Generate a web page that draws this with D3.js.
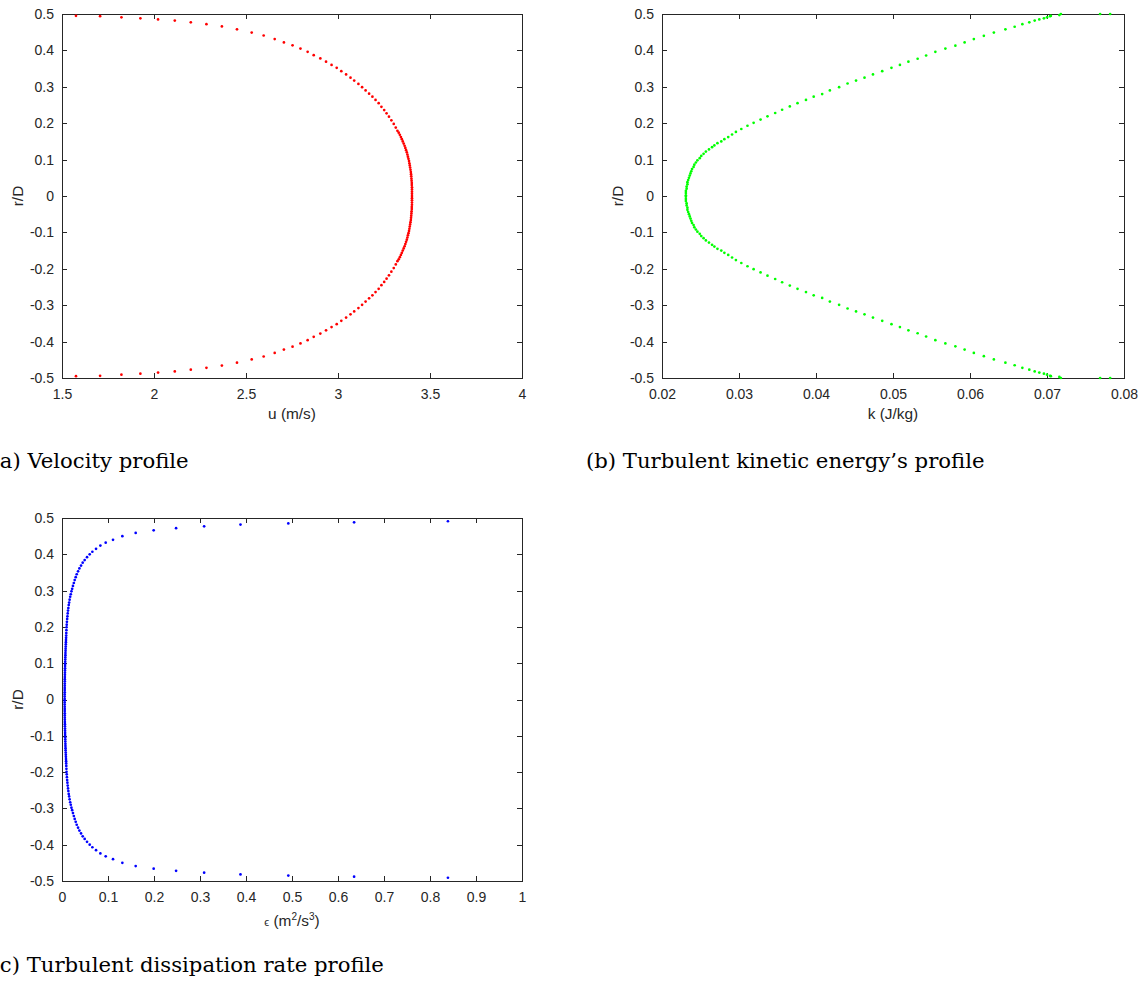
<!DOCTYPE html>
<html>
<head>
<meta charset="utf-8">
<script src="https://cdn.jsdelivr.net/npm/d3@7"></script>
<style>
  body { margin: 0; background: #fff; }
  svg { display: block; }
</style>
</head>
<body>
<svg id="chart" width="1139" height="981"></svg>
<script>
// ---- data ----
// r/D ticks are shared by all three panels
const rTicks = [-0.5, -0.4, -0.3, -0.2, -0.1, 0, 0.1, 0.2, 0.3, 0.4, 0.5];
const uTicks = [1.5, 2, 2.5, 3, 3.5, 4];
const kTicks = [0.02, 0.03, 0.04, 0.05, 0.06, 0.07, 0.08];
const epsTicks = [0, 0.1, 0.2, 0.3, 0.4, 0.5, 0.6, 0.7, 0.8, 0.9, 1];

// (a) velocity, upper half (wall -> centre) and lower half
const rA_upper = [0.495, 0.494, 0.491, 0.488, 0.485, 0.482, 0.477, 0.472, 0.466, 0.458,
  0.449, 0.441, 0.431, 0.422, 0.414, 0.405, 0.396, 0.387, 0.378, 0.369,
  0.360, 0.352, 0.343, 0.334, 0.325, 0.317, 0.308, 0.299, 0.290, 0.281,
  0.273, 0.264, 0.255, 0.245, 0.236, 0.227, 0.218, 0.208, 0.198, 0.188, 0.179,
  0.174, 0.168, 0.162, 0.156, 0.150, 0.144, 0.138, 0.132, 0.126, 0.120,
  0.114, 0.108, 0.102, 0.096, 0.090, 0.084, 0.078, 0.072, 0.066, 0.060,
  0.054, 0.048, 0.042, 0.036, 0.030, 0.024, 0.018, 0.012, 0.006, 0];
const uA_upper = [1.576, 1.707, 1.823, 1.926, 2.022, 2.113, 2.200, 2.285, 2.369, 2.451,
  2.531, 2.596, 2.656, 2.706, 2.753, 2.796, 2.835, 2.868, 2.904, 2.935,
  2.965, 2.993, 3.018, 3.044, 3.068, 3.088, 3.111, 3.131, 3.150, 3.169,
  3.187, 3.204, 3.221, 3.236, 3.251, 3.264, 3.277, 3.290, 3.303, 3.314, 3.323,
  3.330, 3.336, 3.342, 3.347, 3.352, 3.357, 3.362, 3.366, 3.370, 3.374,
  3.377, 3.380, 3.383, 3.386, 3.388, 3.390, 3.392, 3.394, 3.396, 3.397,
  3.398, 3.399, 3.400, 3.401, 3.401, 3.402, 3.402, 3.402, 3.402, 3.402];
const rA_lower = [-0.495, -0.494, -0.491, -0.488, -0.485, -0.482, -0.477, -0.472, -0.466, -0.458,
  -0.449, -0.441, -0.431, -0.422, -0.414, -0.405, -0.396, -0.387, -0.378, -0.369,
  -0.360, -0.352, -0.343, -0.334, -0.325, -0.317, -0.308, -0.299, -0.290, -0.281,
  -0.273, -0.264, -0.255, -0.245, -0.236, -0.227, -0.218, -0.208, -0.198, -0.188, -0.179,
  -0.174, -0.168, -0.162, -0.156, -0.150, -0.144, -0.138, -0.132, -0.126, -0.120,
  -0.114, -0.108, -0.102, -0.096, -0.090, -0.084, -0.078, -0.072, -0.066, -0.060,
  -0.054, -0.048, -0.042, -0.036, -0.030, -0.024, -0.018, -0.012, -0.006];
const uA_lower = [1.576, 1.707, 1.823, 1.926, 2.022, 2.113, 2.200, 2.285, 2.369, 2.451,
  2.531, 2.596, 2.656, 2.706, 2.753, 2.796, 2.835, 2.868, 2.904, 2.935,
  2.965, 2.993, 3.018, 3.044, 3.068, 3.088, 3.111, 3.131, 3.150, 3.169,
  3.187, 3.204, 3.221, 3.236, 3.251, 3.264, 3.277, 3.290, 3.303, 3.314, 3.323,
  3.330, 3.336, 3.342, 3.347, 3.352, 3.357, 3.362, 3.366, 3.370, 3.374,
  3.377, 3.380, 3.383, 3.386, 3.388, 3.390, 3.392, 3.394, 3.396, 3.397,
  3.398, 3.399, 3.400, 3.401, 3.401, 3.402, 3.402, 3.402, 3.402];

// (b) turbulent kinetic energy
const rB_upper = [0.500, 0.500, 0.500, 0.497, 0.495, 0.494, 0.491, 0.488, 0.485, 0.482,
  0.477, 0.472, 0.465, 0.458, 0.449, 0.440, 0.431, 0.422, 0.413, 0.405,
  0.396, 0.386, 0.377, 0.369, 0.360, 0.352, 0.343, 0.334, 0.325, 0.317,
  0.309, 0.299, 0.290, 0.280, 0.273, 0.264, 0.255, 0.246, 0.237, 0.228,
  0.219, 0.210, 0.201, 0.193, 0.184, 0.176, 0.169, 0.162, 0.156, 0.150,
  0.145, 0.139, 0.134,
  0.128, 0.122, 0.116, 0.110, 0.104, 0.098, 0.092, 0.086, 0.080, 0.074,
  0.068, 0.062, 0.056, 0.050, 0.044, 0.038, 0.032, 0.026, 0.020, 0.014, 0.008, 0.002];
const kB_upper = [0.0782, 0.0769, 0.0718, 0.0716, 0.0705, 0.0704, 0.0700, 0.0696, 0.0690, 0.0684,
  0.0677, 0.0668, 0.0658, 0.0646, 0.0631, 0.0618, 0.0605, 0.0593, 0.0581, 0.0568,
  0.0555, 0.0543, 0.0532, 0.0520, 0.0509, 0.0498, 0.0486, 0.0474, 0.0463, 0.0452,
  0.0441, 0.0430, 0.0418, 0.0408, 0.0397, 0.0387, 0.0376, 0.0366, 0.0356, 0.0347,
  0.0337, 0.0328, 0.0319, 0.0311, 0.0303, 0.0296, 0.0291, 0.0286, 0.0281, 0.0277,
  0.0272, 0.0268, 0.0265,
  0.0261, 0.0257, 0.0254, 0.0251, 0.0249, 0.0246, 0.0244, 0.0242, 0.0241, 0.0239,
  0.0238, 0.0237, 0.0236, 0.0235, 0.0234, 0.0233, 0.0233, 0.0232, 0.0232, 0.0231, 0.0231, 0.0231];
const rB_lower = [-0.500, -0.500, -0.500, -0.497, -0.495, -0.494, -0.491, -0.488, -0.485, -0.482,
  -0.477, -0.472, -0.465, -0.458, -0.449, -0.440, -0.431, -0.422, -0.413, -0.405,
  -0.396, -0.386, -0.377, -0.369, -0.360, -0.352, -0.343, -0.334, -0.325, -0.317,
  -0.309, -0.299, -0.290, -0.280, -0.273, -0.264, -0.255, -0.246, -0.237, -0.228,
  -0.219, -0.210, -0.201, -0.193, -0.184, -0.176, -0.169, -0.162, -0.156, -0.150,
  -0.145, -0.139, -0.134,
  -0.128, -0.122, -0.116, -0.110, -0.104, -0.098, -0.092, -0.086, -0.080, -0.074,
  -0.068, -0.062, -0.056, -0.050, -0.044, -0.038, -0.032, -0.026, -0.020, -0.014, -0.008, -0.002];
const kB_lower = [0.0782, 0.0769, 0.0718, 0.0716, 0.0705, 0.0704, 0.0700, 0.0696, 0.0690, 0.0684,
  0.0677, 0.0668, 0.0658, 0.0646, 0.0631, 0.0618, 0.0605, 0.0593, 0.0581, 0.0568,
  0.0555, 0.0543, 0.0532, 0.0520, 0.0509, 0.0498, 0.0486, 0.0474, 0.0463, 0.0452,
  0.0441, 0.0430, 0.0418, 0.0408, 0.0397, 0.0387, 0.0376, 0.0366, 0.0356, 0.0347,
  0.0337, 0.0328, 0.0319, 0.0311, 0.0303, 0.0296, 0.0291, 0.0286, 0.0281, 0.0277,
  0.0272, 0.0268, 0.0265,
  0.0261, 0.0257, 0.0254, 0.0251, 0.0249, 0.0246, 0.0244, 0.0242, 0.0241, 0.0239,
  0.0238, 0.0237, 0.0236, 0.0235, 0.0234, 0.0233, 0.0233, 0.0232, 0.0232, 0.0231, 0.0231, 0.0231];

// (c) turbulent dissipation rate
const rC_upper = [0.491, 0.488, 0.485, 0.482, 0.477, 0.472, 0.466, 0.459, 0.450, 0.440,
  0.432, 0.424, 0.415, 0.407, 0.400, 0.392, 0.384, 0.377, 0.369, 0.361,
  0.353, 0.345, 0.337, 0.329, 0.321, 0.313, 0.305, 0.298, 0.290, 0.283,
  0.275, 0.267, 0.260, 0.252, 0.245, 0.237, 0.229, 0.222, 0.214, 0.206,
  0.199, 0.191, 0.183,
  0.176, 0.170, 0.164, 0.158, 0.152, 0.146, 0.140, 0.134, 0.128, 0.122,
  0.116, 0.110, 0.104, 0.098, 0.092, 0.086, 0.080, 0.074, 0.068, 0.062,
  0.056, 0.050, 0.044, 0.038, 0.032, 0.026, 0.020, 0.014, 0.008, 0.002];
const eC_upper = [0.839, 0.635, 0.492, 0.388, 0.309, 0.248, 0.1993, 0.1602, 0.1312, 0.1109,
  0.0950, 0.0834, 0.0740, 0.0660, 0.0602, 0.0544, 0.0493, 0.0450, 0.0414, 0.0378,
  0.0349, 0.0320, 0.0298, 0.0276, 0.0257, 0.0238, 0.0221, 0.0205, 0.0191, 0.0178,
  0.0166, 0.0155, 0.0146, 0.0138, 0.0131, 0.0124, 0.0118, 0.0112, 0.0107, 0.0103,
  0.0099, 0.0096, 0.0093,
  0.0091, 0.0089, 0.0087, 0.0085, 0.0083, 0.0081, 0.0079, 0.0077, 0.0075, 0.0074,
  0.0072, 0.0071, 0.0069, 0.0068, 0.0067, 0.0066, 0.0065, 0.0064, 0.0063, 0.0062,
  0.0061, 0.0061, 0.0060, 0.0060, 0.0059, 0.0059, 0.0059, 0.0058, 0.0058, 0.0058];
const rC_lower = [-0.491, -0.488, -0.485, -0.482, -0.477, -0.472, -0.466, -0.459, -0.450, -0.440,
  -0.432, -0.424, -0.415, -0.407, -0.400, -0.392, -0.384, -0.377, -0.369, -0.361,
  -0.353, -0.345, -0.337, -0.329, -0.321, -0.313, -0.305, -0.298, -0.290, -0.283,
  -0.275, -0.267, -0.260, -0.252, -0.245, -0.237, -0.229, -0.222, -0.214, -0.206,
  -0.199, -0.191, -0.183,
  -0.176, -0.170, -0.164, -0.158, -0.152, -0.146, -0.140, -0.134, -0.128, -0.122,
  -0.116, -0.110, -0.104, -0.098, -0.092, -0.086, -0.080, -0.074, -0.068, -0.062,
  -0.056, -0.050, -0.044, -0.038, -0.032, -0.026, -0.020, -0.014, -0.008, -0.002];
const eC_lower = [0.839, 0.635, 0.492, 0.388, 0.309, 0.248, 0.1993, 0.1602, 0.1312, 0.1109,
  0.0950, 0.0834, 0.0740, 0.0660, 0.0602, 0.0544, 0.0493, 0.0450, 0.0414, 0.0378,
  0.0349, 0.0320, 0.0298, 0.0276, 0.0257, 0.0238, 0.0221, 0.0205, 0.0191, 0.0178,
  0.0166, 0.0155, 0.0146, 0.0138, 0.0131, 0.0124, 0.0118, 0.0112, 0.0107, 0.0103,
  0.0099, 0.0096, 0.0093,
  0.0091, 0.0089, 0.0087, 0.0085, 0.0083, 0.0081, 0.0079, 0.0077, 0.0075, 0.0074,
  0.0072, 0.0071, 0.0069, 0.0068, 0.0067, 0.0066, 0.0065, 0.0064, 0.0063, 0.0062,
  0.0061, 0.0061, 0.0060, 0.0060, 0.0059, 0.0059, 0.0059, 0.0058, 0.0058, 0.0058];

// ---- drawing ----
const axisColor = "#262626";
const tickFont = "'Liberation Sans', Arial, Helvetica, sans-serif";
const captionFont = "'DejaVu Serif', serif";

const svg = d3.select("#chart");
svg.append("rect").attr("width", 1139).attr("height", 981).attr("fill", "#fff");

const fmt = d => String(d);

// zip two arrays into points
function pts(rs, vs) {
  return rs.map((r, i) => ({ r: r, v: vs[i] }));
}

function drawPanel(p) {
  const x = d3.scaleLinear().domain(p.xDomain).range([p.left, p.right]);
  const y = d3.scaleLinear().domain([-0.5, 0.5]).range([p.bottom, p.top]);
  const g = svg.append("g");

  // mirrored ticks on top and right (box on)
  g.append("g")
    .attr("transform", `translate(0,${p.top})`)
    .call(d3.axisTop(x).tickValues(p.xTicks).tickSizeInner(-5).tickSizeOuter(0).tickFormat(""));
  g.append("g")
    .attr("transform", `translate(${p.right},0)`)
    .call(d3.axisRight(y).tickValues(rTicks).tickSizeInner(-5).tickSizeOuter(0).tickFormat(""));

  g.append("g")
    .attr("transform", `translate(0,${p.bottom})`)
    .call(d3.axisBottom(x).tickValues(p.xTicks).tickSizeInner(-5).tickSizeOuter(0)
      .tickPadding(11).tickFormat(fmt));
  g.append("g")
    .attr("transform", `translate(${p.left},0)`)
    .call(d3.axisLeft(y).tickValues(rTicks).tickSizeInner(-5).tickSizeOuter(0)
      .tickPadding(8).tickFormat(fmt));

  g.selectAll(".domain, .tick line")
    .attr("stroke", axisColor)
    .attr("shape-rendering", "crispEdges");
  g.selectAll(".tick text")
    .attr("fill", axisColor)
    .style("font-family", tickFont)
    .style("font-size", "14px");

  // y label
  g.append("text")
    .attr("transform", `translate(${p.left - 39},${(p.top + p.bottom) / 2}) rotate(-90)`)
    .attr("text-anchor", "middle")
    .attr("fill", axisColor)
    .style("font-family", tickFont)
    .style("font-size", "15.4px")
    .text("r/D");

  // x label
  const xl = g.append("text")
    .attr("x", (p.left + p.right) / 2)
    .attr("y", p.bottom + p.xLabelDy)
    .attr("text-anchor", "middle")
    .attr("fill", axisColor)
    .style("font-family", tickFont)
    .style("font-size", "15.4px");
  p.xLabel(xl);

  // data points
  g.append("g")
    .selectAll("circle")
    .data(p.points)
    .join("circle")
    .attr("cx", d => x(d.v))
    .attr("cy", d => y(d.r))
    .attr("r", 1.35)
    .attr("fill", p.color);

  // caption
  svg.append("text")
    .attr("x", p.capX)
    .attr("y", p.capY)
    .attr("fill", "#000")
    .style("font-family", captionFont)
    .style("font-size", "21.2px")
    .text(p.caption);
}

drawPanel({
  left: 62, right: 522, top: 14, bottom: 378,
  xDomain: [1.5, 4], xTicks: uTicks,
  xLabelDy: 41,
  xLabel: t => t.text("u (m/s)"),
  points: pts(rA_upper, uA_upper).concat(pts(rA_lower, uA_lower)),
  color: "#ff0000",
  caption: "(a) Velocity profile", capX: -8.5, capY: 468
});

drawPanel({
  left: 662, right: 1124, top: 14, bottom: 378,
  xDomain: [0.02, 0.08], xTicks: kTicks,
  xLabelDy: 41,
  xLabel: t => t.text("k (J/kg)"),
  points: pts(rB_upper, kB_upper).concat(pts(rB_lower, kB_lower)),
  color: "#00ff00",
  caption: "(b) Turbulent kinetic energy\u2019s profile", capX: 586, capY: 468
});

drawPanel({
  left: 62, right: 522, top: 518, bottom: 881,
  xDomain: [0, 1], xTicks: epsTicks,
  xLabelDy: 45,
  xLabel: t => {
    t.append("tspan").style("font-size", "11px").text("\u03f5");
    t.append("tspan").text(" (m");
    t.append("tspan").attr("dy", -6).style("font-size", "10px").text("2");
    t.append("tspan").attr("dy", 6).text("/s");
    t.append("tspan").attr("dy", -6).style("font-size", "10px").text("3");
    t.append("tspan").attr("dy", 6).text(")");
  },
  points: pts(rC_upper, eC_upper).concat(pts(rC_lower, eC_lower)),
  color: "#0000ff",
  caption: "(c) Turbulent dissipation rate profile", capX: -8.5, capY: 972
});
</script>
</body>
</html>
